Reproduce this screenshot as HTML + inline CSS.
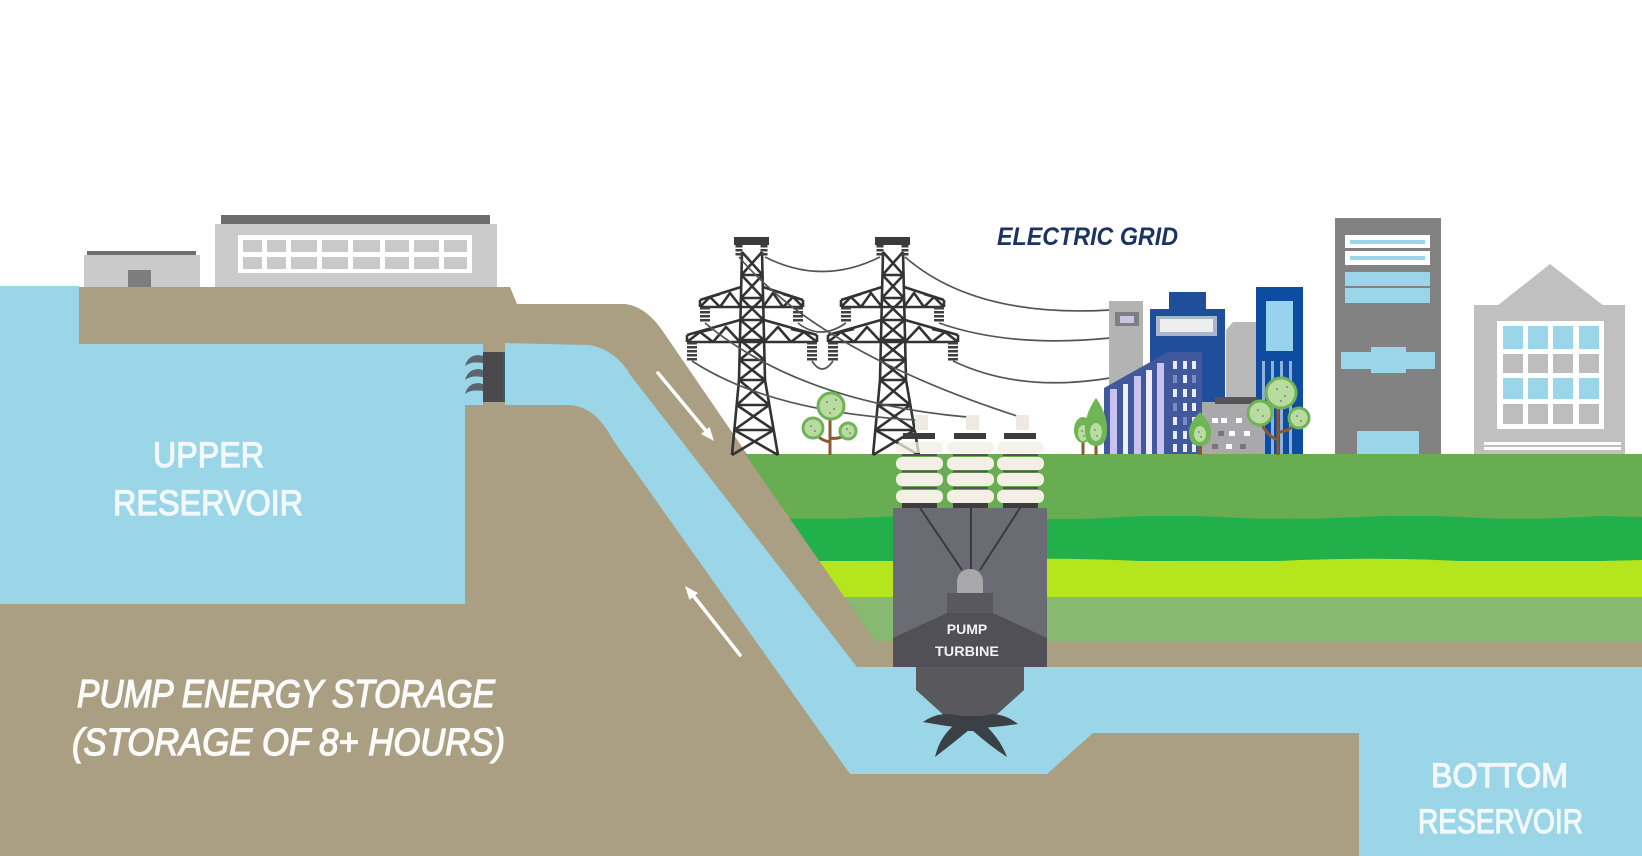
<!DOCTYPE html>
<html>
<head>
<meta charset="utf-8">
<style>
html,body{margin:0;padding:0;background:#fff;}
svg{display:block;}
</style>
</head>
<body>
<svg width="1642" height="856" viewBox="0 0 1642 856" xmlns="http://www.w3.org/2000/svg">
<defs>
  <clipPath id="greenClip">
    <polygon points="745,454 1642,454 1642,641 875,641"/>
  </clipPath>
  <g id="tower">
    <g fill="none" stroke="#333" stroke-width="2.6" stroke-linejoin="round">
      <path d="M742,252 L739,380 L732,455 M762,252 L765,380 L778,455"/>
      <path d="M741.5,275 H762.5 M741,298 H763 M740.4,320 H763.6 M740,340 H764 M739.5,360 H764.5 M739,380 H765 M736.7,405 H769.3 M734.3,430 H773.7"/>
      <path d="M742,252 L762.5,275 M762,252 L741.5,275 M741.5,275 L763,298 M762.5,275 L741,298 M741,298 L763.6,320 M763,298 L740.4,320 M740.4,320 L764,340 M763.6,320 L740,340 M740,340 L764.5,360 M764,340 L739.5,360 M739.5,360 L765,380 M764.5,360 L739,380 M739,380 L769.3,405 M765,380 L736.7,405 M736.7,405 L773.7,430 M769.3,405 L734.3,430 M734.3,430 L778,455 M773.7,430 L732,455"/>
      <path d="M700,307 H803 M700,300 L741,287 M763,287 L803,300 M700,300 V307 M803,300 V307 M700,307 L710,297 L720,307 L730,293 L741,307 M710,297 L720,294 M763,307 L773,293 L783,307 L793,297 L803,307 M783,294 L793,297"/>
      <path d="M687,342 H817 M687,335 L740,320 M764,320 L817,335 M687,335 V342 M817,335 V342 M687,342 L700,332 L713,342 L726,327 L740,342 M700,332 L713,329 M764,342 L778,327 L791,342 L804,332 L817,342 M791,329 L804,332"/>
    </g>
    <rect x="734" y="237" width="35" height="8" fill="#3a3a3a"/>
    <g stroke="#3f3f3f" fill="none" stroke-dasharray="2.5 1.5">
      <path d="M705,307 V323 M798,307 V323 M692,342 V361 M812,342 V361" stroke-width="10"/>
      <path d="M739,245 V257 M764,245 V257" stroke-width="7"/>
    </g>
  </g>
</defs>

<!-- sky -->
<rect x="0" y="0" width="1642" height="856" fill="#ffffff"/>

<!-- brown ground -->
<path d="M79,287 L510,287 L517,304 L625,304 Q645,306 662,330 L875,641 L1642,641 L1642,856 L0,856 L0,600 L79,600 Z" fill="#aa9f82"/>

<!-- green layers -->
<g clip-path="url(#greenClip)">
  <rect x="700" y="454" width="942" height="187" fill="#69ad52"/>
  <rect x="700" y="519" width="942" height="42" fill="#22b04b"/>
  <path d="M700,519 Q740,515 780,518 Q830,520 880,517 Q940,514 1000,518 Q1060,521 1120,517 Q1180,514 1240,518 Q1300,520 1360,517 Q1420,514 1480,518 Q1540,520 1600,516 L1642,517 L1642,522 L700,522 Z" fill="#22b04b"/>
  <rect x="700" y="561" width="942" height="37" fill="#b4e51d"/>
  <path d="M700,562 Q760,558 820,561 Q900,564 980,560 Q1060,557 1140,561 Q1220,564 1300,560 Q1380,557 1460,561 Q1540,563 1642,560 L1642,565 L700,565 Z" fill="#b4e51d"/>
  <rect x="700" y="597" width="942" height="44" fill="#87b970"/>
</g>

<!-- water: upper reservoir -->
<path d="M0,286 L79,286 L79,344 L483,344 L483,405 L465,405 L465,604 L0,604 Z" fill="#9ad6e8"/>
<!-- water: penstock + channel + bottom reservoir -->
<path d="M505,343 L590,345 Q616,350 631,376 L857,667 L1642,667 L1642,856 L1359,856 L1359,733 L1093,733 L1047,774 L850,774 L613,440 Q596,407 570,405 L505,405 Z" fill="#9ad6e8"/>

<!-- gate -->
<rect x="483" y="352" width="22" height="50" fill="#4a4a4c"/>
<rect x="503" y="352" width="2" height="50" fill="#3a5a70"/>
<g fill="#5c6470">
  <path d="M483,356 C474,353 467,358 465,366 C470,362 476,362 483,363 Z"/>
  <path d="M483,370 C474,367 467,372 465,380 C470,376 476,376 483,377 Z"/>
  <path d="M483,384 C474,381 467,386 465,394 C470,390 476,390 483,391 Z"/>
</g>

<!-- arrows -->
<g stroke="#ffffff" stroke-width="3.5" stroke-linecap="round">
  <line x1="658" y1="373" x2="707" y2="432"/>
  <line x1="740" y1="655" x2="692" y2="594"/>
</g>
<g fill="#ffffff">
  <polygon points="714,441 701,434 709.5,427"/>
  <polygon points="685,586 698,593 689.5,600"/>
</g>

<!-- buildings on platform -->
<rect x="87" y="251" width="109" height="5" fill="#6e6e6e"/>
<rect x="84" y="255" width="116" height="32" fill="#cacaca"/>
<rect x="128" y="270" width="23" height="17" fill="#7d7d7d"/>
<rect x="221" y="215" width="269" height="9" fill="#6d6d6d"/>
<rect x="215" y="224" width="282" height="63" fill="#cbcbcb"/>
<rect x="238" y="235" width="234" height="38" fill="#ffffff"/>
<g fill="#c9c9c9">
  <rect x="243" y="240" width="19" height="12"/><rect x="267" y="240" width="19" height="12"/><rect x="291" y="240" width="26" height="12"/><rect x="322" y="240" width="26" height="12"/><rect x="353" y="240" width="27" height="12"/><rect x="385" y="240" width="24" height="12"/><rect x="414" y="240" width="25" height="12"/><rect x="444" y="240" width="23" height="12"/>
  <rect x="243" y="257" width="19" height="12"/><rect x="267" y="257" width="19" height="12"/><rect x="291" y="257" width="26" height="12"/><rect x="322" y="257" width="26" height="12"/><rect x="353" y="257" width="27" height="12"/><rect x="385" y="257" width="24" height="12"/><rect x="414" y="257" width="25" height="12"/><rect x="444" y="257" width="23" height="12"/>
</g>

<!-- towers -->
<use href="#tower"/>
<use href="#tower" transform="translate(141,0)"/>

<!-- wires -->
<g fill="none" stroke="#555" stroke-width="1.7">
  <path d="M765,257 Q822,286 880,257"/>
  <path d="M905,257 Q975,318 1110,310"/>
  <path d="M939,323 Q1010,348 1110,338"/>
  <path d="M953,361 Q1020,393 1110,378"/>
  <path d="M798,323 Q820,341 846,323"/>
  <path d="M812,361 Q822,377 833,361"/>
  <path d="M692,361 Q770,412 916,420"/>
  <path d="M705,323 Q800,402 967,417"/>
  <path d="M739,257 Q820,352 1017,416"/>
</g>

<!-- tree near towers -->
<g>
  <path d="M830,455 L830,412 M830,442 Q818,440 814,430 M830,438 Q842,440 847,432" stroke="#8a5a32" stroke-width="3" fill="none"/>
  <g fill="#b8dca0" stroke="#6fb257" stroke-width="3">
    <circle cx="831" cy="406" r="13"/>
    <circle cx="813" cy="428" r="10"/>
    <circle cx="848" cy="431" r="8"/>
  </g>
  <g fill="#555"><circle cx="827" cy="402" r=".8"/><circle cx="834" cy="409" r=".8"/><circle cx="830" cy="413" r=".8"/><circle cx="836" cy="400" r=".8"/><circle cx="811" cy="426" r=".8"/><circle cx="815" cy="431" r=".8"/><circle cx="847" cy="429" r=".8"/><circle cx="850" cy="433" r=".8"/></g>
</g>

<!-- city buildings -->
<rect x="1109" y="301" width="34" height="153" fill="#b3b3b3"/>
<rect x="1115" y="312" width="24" height="14" fill="#7f7f7f"/>
<rect x="1120" y="316" width="14" height="7" fill="#cbc3ea"/>
<rect x="1169" y="292" width="37" height="18" fill="#1f4e9a"/>
<rect x="1150" y="309" width="75" height="145" fill="#1f4e9a"/>
<rect x="1156" y="316" width="61" height="20" fill="#aab6cc"/>
<rect x="1160" y="319" width="53" height="13" fill="#eeeeee"/>
<polygon points="1226,330 1233,322 1256,322 1256,454 1226,454" fill="#b9b9b9"/>
<rect x="1256" y="287" width="47" height="167" fill="#0e4c9f"/>
<rect x="1266" y="301" width="27" height="50" fill="#97d3ec"/>
<g fill="#8fb0dd"><rect x="1262" y="361" width="3" height="93"/><rect x="1271" y="361" width="3" height="93"/><rect x="1280" y="361" width="3" height="93"/><rect x="1289" y="361" width="3" height="93"/></g>
<polygon points="1104,388 1168,352 1202,352 1202,454 1104,454" fill="#41599c"/>
<g fill="#c9c2ee">
  <rect x="1110" y="389" width="7" height="65"/><rect x="1123" y="384" width="5" height="70" fill="#eef"/><rect x="1134" y="376" width="7" height="78"/><rect x="1146" y="370" width="6" height="84" fill="#eef"/><rect x="1157" y="363" width="7" height="91"/>
</g>
<g fill="#e8ecf6">
  <rect x="1173" y="361" width="4" height="8"/><rect x="1183" y="361" width="4" height="8"/><rect x="1192" y="361" width="4" height="8"/>
  <rect x="1173" y="375" width="4" height="8" fill="#7a8cbf"/><rect x="1183" y="375" width="4" height="8"/><rect x="1192" y="375" width="4" height="8" fill="#7a8cbf"/>
  <rect x="1173" y="389" width="4" height="8"/><rect x="1183" y="389" width="4" height="8"/><rect x="1192" y="389" width="4" height="8"/>
  <rect x="1173" y="403" width="4" height="8" fill="#7a8cbf"/><rect x="1183" y="403" width="4" height="8"/><rect x="1192" y="403" width="4" height="8"/>
  <rect x="1173" y="417" width="4" height="8"/><rect x="1183" y="417" width="4" height="8" fill="#7a8cbf"/><rect x="1192" y="417" width="4" height="8"/>
  <rect x="1173" y="431" width="4" height="8"/><rect x="1183" y="431" width="4" height="8"/><rect x="1192" y="431" width="4" height="8"/>
  <rect x="1173" y="444" width="4" height="8"/><rect x="1183" y="444" width="4" height="8"/><rect x="1192" y="444" width="4" height="8"/>
</g>
<rect x="1202" y="402" width="61" height="52" fill="#a9a9ab"/>
<rect x="1215" y="397" width="42" height="7" fill="#555"/>
<g fill="#fff">
  <rect x="1212" y="418" width="6" height="5"/><rect x="1221" y="418" width="6" height="5"/><rect x="1236" y="418" width="6" height="5"/>
  <rect x="1218" y="431" width="6" height="5" fill="#777"/><rect x="1229" y="431" width="6" height="5"/><rect x="1244" y="431" width="6" height="5"/>
  <rect x="1212" y="444" width="6" height="5" fill="#777"/><rect x="1226" y="444" width="6" height="5"/><rect x="1240" y="444" width="6" height="5" fill="#777"/>
</g>

<!-- city trees -->
<g>
  <path d="M1083,455 V438 M1096,455 V440 M1200,455 V440" stroke="#8a5a32" stroke-width="3" fill="none"/>
  <ellipse cx="1083" cy="430" rx="9" ry="13" fill="#6fb553"/>
  <ellipse cx="1083" cy="433" rx="5" ry="8" fill="#b9dca2"/>
  <path d="M1096,398 Q1108,415 1107,432 Q1106,446 1096,446 Q1086,446 1085,432 Q1084,415 1096,398 Z" fill="#6fb553"/>
  <ellipse cx="1096" cy="432" rx="6" ry="9" fill="#b9dca2"/>
  <path d="M1200,412 Q1212,424 1211,434 Q1210,446 1200,446 Q1190,446 1189,434 Q1188,424 1200,412 Z" fill="#6fb553"/>
  <ellipse cx="1200" cy="434" rx="6" ry="8" fill="#b9dca2"/>
  <path d="M1278,455 L1278,405 M1278,440 Q1266,436 1260,420 M1278,432 Q1290,432 1298,420" stroke="#8a5a32" stroke-width="3" fill="none"/>
  <g fill="#b8dca0" stroke="#6fb257" stroke-width="3">
    <circle cx="1281" cy="393" r="15"/>
    <circle cx="1260" cy="413" r="12"/>
    <circle cx="1299" cy="418" r="10"/>
  </g>
  <g fill="#555"><circle cx="1277" cy="389" r=".8"/><circle cx="1285" cy="396" r=".8"/><circle cx="1281" cy="401" r=".8"/><circle cx="1287" cy="387" r=".8"/><circle cx="1258" cy="410" r=".8"/><circle cx="1263" cy="416" r=".8"/><circle cx="1297" cy="416" r=".8"/><circle cx="1301" cy="421" r=".8"/><circle cx="1082" cy="431" r=".7"/><circle cx="1084" cy="436" r=".7"/><circle cx="1095" cy="430" r=".7"/><circle cx="1097" cy="436" r=".7"/><circle cx="1199" cy="432" r=".7"/><circle cx="1201" cy="437" r=".7"/></g>
</g>

<!-- tall gray building -->
<rect x="1335" y="218" width="106" height="236" fill="#828282"/>
<rect x="1345" y="235" width="85" height="13" fill="#ffffff"/>
<rect x="1350" y="240" width="75" height="4" fill="#9ad5ea"/>
<rect x="1345" y="251" width="85" height="14" fill="#ffffff"/>
<rect x="1350" y="256" width="75" height="4" fill="#9ad5ea"/>
<rect x="1345" y="272" width="85" height="14" fill="#9ad5ea"/>
<rect x="1345" y="288" width="85" height="15" fill="#9ad5ea"/>
<rect x="1341" y="352" width="94" height="17" fill="#9ad5ea"/>
<rect x="1371" y="347" width="35" height="26" fill="#9ad5ea"/>
<rect x="1357" y="431" width="62" height="23" fill="#9ad5ea"/>

<!-- right light gray house -->
<polygon points="1497,306 1550,264 1604,306" fill="#c0c0c0"/>
<rect x="1474" y="305" width="151" height="149" fill="#c0c0c0"/>
<rect x="1497" y="321" width="107" height="108" fill="#ffffff"/>
<g fill="#9ad5ea">
  <rect x="1503" y="326" width="20" height="23"/><rect x="1528" y="326" width="20" height="23"/><rect x="1553" y="326" width="20" height="23"/><rect x="1579" y="326" width="20" height="23"/>
  <rect x="1503" y="378" width="20" height="21"/><rect x="1528" y="378" width="20" height="21"/><rect x="1553" y="378" width="20" height="21"/><rect x="1579" y="378" width="20" height="21"/>
</g>
<g fill="#bdbdbd">
  <rect x="1503" y="354" width="20" height="19"/><rect x="1528" y="354" width="20" height="19"/><rect x="1553" y="354" width="20" height="19"/><rect x="1579" y="354" width="20" height="19"/>
  <rect x="1503" y="404" width="20" height="20"/><rect x="1528" y="404" width="20" height="20"/><rect x="1553" y="404" width="20" height="20"/><rect x="1579" y="404" width="20" height="20"/>
</g>
<rect x="1484" y="442" width="137" height="3" fill="#ffffff"/>
<rect x="1484" y="447" width="137" height="3" fill="#ffffff"/>

<!-- turbine insulators -->
<g>
  <g fill="#ece6dc" opacity="0.85">
    <rect x="915" y="415" width="13" height="15"/><rect x="966" y="415" width="13" height="15"/><rect x="1016" y="415" width="13" height="15"/>
  </g>
  <g fill="#3c3c3c">
    <rect x="903" y="433" width="32" height="6"/><rect x="954" y="433" width="32" height="6"/><rect x="1004" y="433" width="32" height="6"/>
  </g>
  <g fill="#f2eee6" opacity="0.75">
    <rect x="896" y="442" width="47" height="11" rx="5"/><rect x="947" y="442" width="47" height="11" rx="5"/><rect x="997" y="442" width="47" height="11" rx="5"/>
  </g>
  <g fill="#f3efe5">
    <rect x="896" y="457" width="47" height="13" rx="6"/><rect x="947" y="457" width="47" height="13" rx="6"/><rect x="997" y="457" width="47" height="13" rx="6"/>
    <rect x="896" y="473" width="47" height="13" rx="6"/><rect x="947" y="473" width="47" height="13" rx="6"/><rect x="997" y="473" width="47" height="13" rx="6"/>
    <rect x="896" y="490" width="47" height="13" rx="6"/><rect x="947" y="490" width="47" height="13" rx="6"/><rect x="997" y="490" width="47" height="13" rx="6"/>
  </g>
  <g stroke="#555" stroke-width="2">
    <path d="M902,455 H937 M953,455 H988 M1003,455 H1038 M902,471.5 H937 M953,471.5 H988 M1003,471.5 H1038 M902,488 H937 M953,488 H988 M1003,488 H1038"/>
  </g>
  <g fill="#3d3d3d">
    <rect x="902" y="503" width="35" height="5"/><rect x="953" y="503" width="35" height="5"/><rect x="1003" y="503" width="35" height="5"/>
  </g>
</g>

<!-- turbine box -->
<rect x="893" y="508" width="154" height="159" fill="#6b6b73"/>
<path d="M920,508 L962,570 M971,508 L971,570 M1020,508 L980,570" stroke="#3a3a40" stroke-width="2" fill="none"/>
<path d="M957,593 L957,581 A13,12 0 0 1 983,581 L983,593 Z" fill="#a8a8aa"/>
<rect x="947" y="593" width="46" height="20" fill="#58585e"/>
<polygon points="893,638 947,613 993,613 1047,638 1047,667 893,667" fill="#505056"/>
<text x="967" y="634" text-anchor="middle" font-family="'Liberation Sans', sans-serif" font-weight="bold" font-size="14" fill="#f2f2f2">PUMP</text>
<text x="935" y="656" textLength="64" lengthAdjust="spacingAndGlyphs" font-family="'Liberation Sans', sans-serif" font-weight="bold" font-size="14" fill="#f2f2f2">TURBINE</text>

<!-- shaft & blades -->
<polygon points="916,667 1024,667 1024,690 993,718 947,718 916,690" fill="#58585d"/>
<g fill="#3b4047">
  <path d="M960,716 Q940,710 923,722 Q945,726 962,728 Z"/>
  <path d="M982,716 Q1000,710 1018,724 Q998,727 980,728 Z"/>
  <path d="M958,722 Q940,735 935,757 Q952,744 969,730 Z"/>
  <path d="M982,722 Q1000,738 1007,757 Q990,746 972,730 Z"/>
  <polygon points="950,716 990,716 980,731 960,731"/>
</g>

<!-- texts -->
<text x="997" y="245" textLength="181" lengthAdjust="spacingAndGlyphs" font-family="'Liberation Sans', sans-serif" font-weight="bold" font-style="italic" font-size="25" fill="#1d3461">ELECTRIC GRID</text>

<g font-family="'Liberation Sans', sans-serif" fill="#f3f9fb" stroke="#f3f9fb" stroke-width="1.2">
  <text x="153" y="467" textLength="111" lengthAdjust="spacingAndGlyphs" font-size="35">UPPER</text>
  <text x="113" y="515" textLength="190" lengthAdjust="spacingAndGlyphs" font-size="35">RESERVOIR</text>
  <text x="1431" y="787" textLength="137" lengthAdjust="spacingAndGlyphs" font-size="34">BOTTOM</text>
  <text x="1418" y="833" textLength="165" lengthAdjust="spacingAndGlyphs" font-size="34">RESERVOIR</text>
</g>
<g font-family="'Liberation Sans', sans-serif" font-style="italic" fill="#fbfbfa" stroke="#fbfbfa" stroke-width="1.3">
  <text x="77" y="707" textLength="418" lengthAdjust="spacingAndGlyphs" font-size="39">PUMP ENERGY STORAGE</text>
  <text x="72" y="755" textLength="433" lengthAdjust="spacingAndGlyphs" font-size="38">(STORAGE OF 8+ HOURS)</text>
</g>
</svg>
</body>
</html>
